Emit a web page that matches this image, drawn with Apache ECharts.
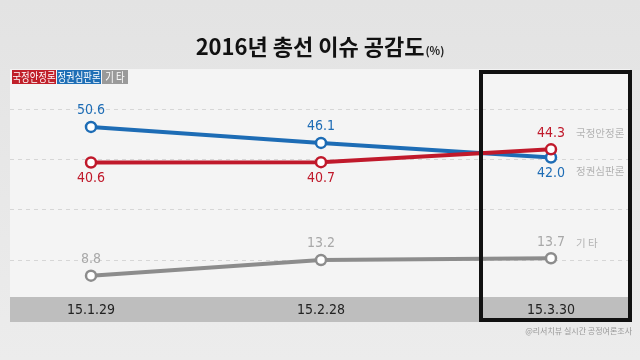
<!DOCTYPE html>
<html><head><meta charset="utf-8">
<script src="https://cdn.jsdelivr.net/npm/echarts@6/dist/echarts.min.js"></script>
<style>html,body{margin:0;padding:0;}#c{width:640px;height:360px;}</style>
</head><body><div id="c"></div>
<script>
const categories = ['15.1.29', '15.2.28', '15.3.30'];
const stabilityName = '국정안정론';
const stability = [40.6, 40.7, 44.3];
const judgmentName = '정권심판론';
const judgment = [50.6, 46.1, 42.0];
const otherName = '기 타';
const other = [8.8, 13.2, 13.7];
const titleText = '2016년 총선 이슈 공감도';
const unitText = '(%)';
const sourceText = '@리서치뷰 실시간 공정여론조사';

const RED = '#c0192b', BLUE = '#1d6cb5', GRAY = '#8c8c8c';
const numFont = "'DejaVu Sans Condensed','Liberation Sans Narrow','Noto Sans CJK KR',sans-serif";
const kr = "'Noto Sans CJK KR',sans-serif";

function labelsFor(vals, positions) {
  return vals.map((v, i) => ({
    value: v,
    label: { position: positions[i] }
  }));
}

function mkSeries(name, vals, positions, color, labelColor, endOffset) {
  return {
    type: 'line', name: name, xAxisIndex: 0, yAxisIndex: 0,
    data: labelsFor(vals, positions),
    symbol: 'circle', symbolSize: 10,
    lineStyle: { color: color, width: 4 },
    itemStyle: { color: '#fff', borderColor: color, borderWidth: 2.5 },
    label: { show: true, color: labelColor, fontSize: 14, fontWeight: 300, fontFamily: numFont, distance: 3,
      formatter: p => p.value.toFixed(1) },
    endLabel: { show: true, formatter: '{a}', color: '#b3b3b3', fontSize: 10.5, fontFamily: kr,
      offset: endOffset },
    z: 5
  };
}

const chart = echarts.init(document.getElementById('c'));
chart.setOption({
  animation: false,
  backgroundColor: { type: 'linear', x: 0, y: 0, x2: 0, y2: 1,
    colorStops: [{ offset: 0, color: '#e3e3e3' }, { offset: 1, color: '#ececec' }] },
  title: {
    text: '{a|' + titleText + '}{b|' + unitText + '}',
    left: 'center', top: 31,
    textStyle: { rich: {
      a: { fontSize: 22, fontWeight: 'bold', color: '#111', fontFamily: kr },
      b: { fontSize: 11, color: '#222', fontFamily: kr, padding: [8, 0, 0, 1] }
    } }
  },
  grid: [
    { left: 91, right: 89, top: 70, bottom: 53 },
    { left: 10, right: 10, top: 109, height: 151 }
  ],
  xAxis: [
    { type: 'category', gridIndex: 0, data: categories, boundaryGap: false,
      axisLine: { show: false }, axisTick: { show: false }, splitLine: { show: false },
      axisLabel: { color: '#222', fontSize: 14, fontFamily: numFont, margin: 3, verticalAlign: 'middle' } },
    { type: 'value', gridIndex: 1, show: false, min: 0, max: 1 }
  ],
  yAxis: [
    { type: 'value', gridIndex: 0, min: 0, max: 66.6, show: false },
    { type: 'value', gridIndex: 1, min: 0, max: 3, interval: 1, z: 1,
      axisLine: { show: false }, axisTick: { show: false }, axisLabel: { show: false },
      splitLine: { show: true, lineStyle: { color: '#d6d6d6', type: [4, 4], width: 1 } } }
  ],
  series: [
    mkSeries(judgmentName, judgment, ['top', 'top', 'bottom'], BLUE, BLUE, [17, 13]),
    mkSeries(stabilityName, stability, ['bottom', 'bottom', 'top'], RED, RED, [17, -16]),
    mkSeries(otherName, other, ['top', 'top', 'top'], GRAY, '#a8a8a8', [17, -15])
  ],
  graphic: [
    { type: 'rect', z: -10, shape: { x: 10, y: 69, width: 620, height: 228 }, style: { fill: '#f4f4f4' } },
    { type: 'rect', z: -10, shape: { x: 10, y: 297, width: 620, height: 25 }, style: { fill: '#bebebe' } },
    { type: 'rect', z: 100, shape: { x: 481, y: 72, width: 149, height: 248 }, style: { fill: null, stroke: '#111', lineWidth: 4 } },
    { type: 'rect', z: 50, shape: { x: 12, y: 70, width: 44, height: 14 }, style: { fill: '#c0202a' } },
    { type: 'rect', z: 50, shape: { x: 57, y: 70, width: 44, height: 14 }, style: { fill: '#1f6fb6' } },
    { type: 'rect', z: 50, shape: { x: 102, y: 70, width: 26, height: 14 }, style: { fill: '#9a9a9a' } },
    { type: 'text', z: 51, x: 34, y: 77, scaleX: 0.78, style: { text: stabilityName, fill: '#fff', font: '12px ' + kr, textAlign: 'center', textVerticalAlign: 'middle' } },
    { type: 'text', z: 51, x: 79, y: 77, scaleX: 0.78, style: { text: judgmentName, fill: '#fff', font: '12px ' + kr, textAlign: 'center', textVerticalAlign: 'middle' } },
    { type: 'text', z: 51, x: 115, y: 77, scaleX: 0.78, style: { text: otherName, fill: '#fff', font: '12px ' + kr, textAlign: 'center', textVerticalAlign: 'middle' } },
    { type: 'text', z: 51, x: 632, y: 331, style: { text: sourceText, fill: '#999', font: '8px ' + kr, textAlign: 'right', textVerticalAlign: 'middle' } }
  ]
});
</script></body></html>
